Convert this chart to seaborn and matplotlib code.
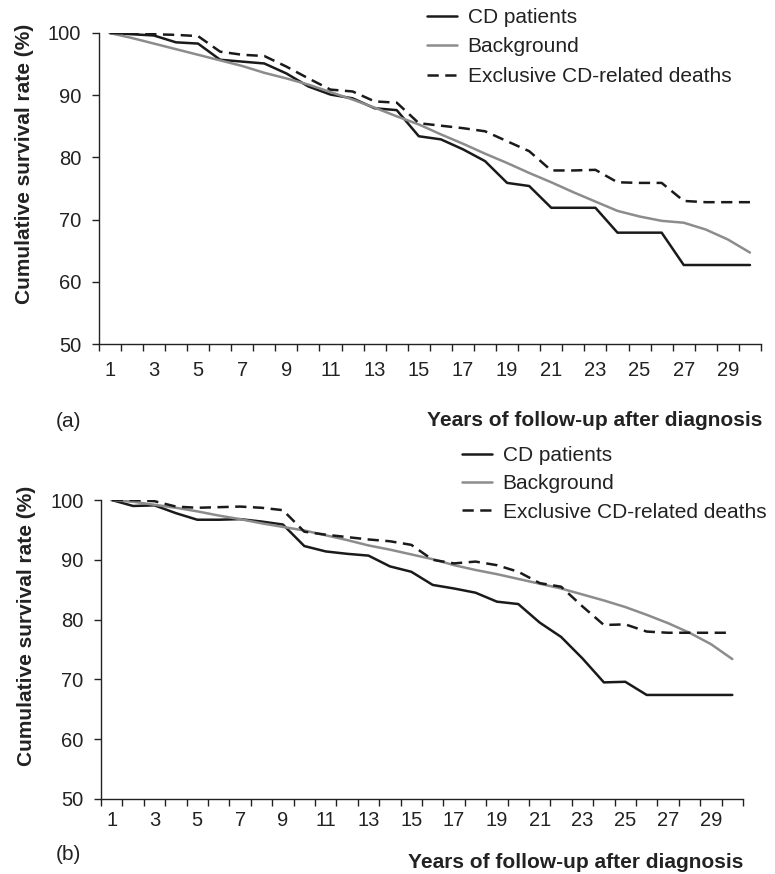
import matplotlib
matplotlib.use("Agg")
import matplotlib.pyplot as plt
import seaborn as sns
import numpy as np
import pandas as pd

years = list(range(1, 31))
xtick_labels = [str(y) for y in range(1, 30, 2)]

# Panel (a)
cd_a = [100, 99.8, 99.6, 98.5, 98.3, 95.7, 95.4, 95.1, 93.5, 91.4,
        90.1, 89.5, 87.9, 87.6, 83.4, 82.9, 81.3, 79.4, 75.9, 75.4,
        71.9, 71.9, 71.9, 67.9, 67.9, 67.9, 62.7, 62.7, 62.7, 62.7]
bg_a = [100, 99.2, 98.3, 97.4, 96.5, 95.6, 94.7, 93.6, 92.7, 91.7,
        90.5, 89.3, 88.0, 86.6, 85.3, 83.7, 82.2, 80.6, 79.1, 77.5,
        76.0, 74.4, 72.9, 71.4, 70.5, 69.8, 69.5, 68.4, 66.8, 64.7]
ex_a = [100, 99.9, 99.8, 99.7, 99.5, 97.0, 96.5, 96.3, 94.6, 92.7,
        90.9, 90.6, 89.0, 88.8, 85.5, 85.1, 84.7, 84.2, 82.6, 81.0,
        77.9, 77.9, 78.0, 76.0, 75.9, 75.9, 73.0, 72.8, 72.8, 72.8]

# Panel (b)
cd_b = [100, 99.0, 99.1, 97.8, 96.7, 96.7, 96.8, 96.4, 95.9, 92.3,
        91.4, 91.0, 90.7, 88.9, 88.0, 85.8, 85.2, 84.5, 83.0, 82.6,
        79.5, 77.1, 73.5, 69.5, 69.6, 67.4, 67.4, 67.4, 67.4, 67.4]
bg_b = [100, 99.7, 99.2, 98.7, 98.1, 97.4, 96.8, 96.1, 95.5, 94.9,
        94.1, 93.3, 92.4, 91.7, 90.9, 90.1, 89.1, 88.3, 87.6, 86.8,
        86.0, 85.2, 84.2, 83.2, 82.1, 80.8, 79.4, 77.8, 75.9, 73.4]
ex_b = [100, 100, 99.8, 98.9, 98.7, 98.8, 98.9, 98.7, 98.3, 94.7,
        94.2, 93.8, 93.4, 93.1, 92.5, 90.0, 89.4, 89.7, 89.1, 88.0,
        86.1, 85.5, 82.2, 79.1, 79.2, 78.0, 77.8, 77.8, 77.8, 77.8]

labels = ["CD patients", "Background", "Exclusive CD-related deaths"]

sns.set_theme(style="white")
plt.rcParams['font.family'] = ['Liberation Sans', 'DejaVu Sans']

W, H = 775, 874
fig = plt.figure(figsize=(W / 100, H / 100), dpi=100)
TXT = "#222222"
FS = 15


def px_axes(left, right, top, bottom):
    return fig.add_axes([left / W, 1 - bottom / H, (right - left) / W, (bottom - top) / H])


ax_a = px_axes(98.7, 761, 33, 344)
ax_b = px_axes(101, 743, 500, 799)


def draw(ax, cd, bg, ex, leg_xy, labelspacing, ylab_x, ylab_y, xpad):
    sns.lineplot(x=years, y=cd, ax=ax, color="#1a1a1a", linewidth=1.8, label=labels[0])
    sns.lineplot(x=years, y=bg, ax=ax, color="#8c8c8c", linewidth=1.8, label=labels[1])
    sns.lineplot(x=years, y=ex, ax=ax, color="#1a1a1a", linewidth=1.8, label=labels[2])
    ax.lines[-1].set_dashes((4.5, 2.6))
    for ln in ax.lines:
        ln.set_solid_joinstyle("round")
        ln.set_dash_joinstyle("round")
    ax.set_xlim(0.5, 30.5)
    ax.set_ylim(50, 100)
    ax.set_yticks([50, 60, 70, 80, 90, 100])
    ax.set_xticks(np.arange(0.5, 31, 1))
    ax.set_xticklabels([])
    ax.set_xticks(np.arange(1, 30, 2), minor=True)
    ax.set_xticklabels(xtick_labels, minor=True)
    ax.tick_params(axis="x", which="major", direction="out", length=5, width=1, color=TXT,
                   bottom=True)
    ax.tick_params(axis="x", which="minor", length=0, pad=xpad, labelsize=14.5, colors=TXT)
    ax.tick_params(axis="y", direction="out", length=5, width=1, color=TXT, left=True,
                   labelsize=14.5, labelcolor=TXT, pad=7.5)
    for s in ["top", "right"]:
        ax.spines[s].set_visible(False)
    for s in ["left", "bottom"]:
        ax.spines[s].set_color(TXT)
        ax.spines[s].set_linewidth(1)
    ax.set_xlabel("")
    ax.set_ylabel("Cumulative survival rate (%)", fontsize=FS, fontweight="bold", color=TXT)
    ax.yaxis.set_label_coords(ylab_x, ylab_y)
    leg = ax.legend(loc="upper left", bbox_to_anchor=(leg_xy[0] / W, 1 - leg_xy[1] / H),
                    bbox_transform=fig.transFigure, frameon=False, fontsize=FS,
                    handlelength=1.45, handletextpad=0.5, labelspacing=labelspacing,
                    borderpad=0, borderaxespad=0)
    for t in leg.get_texts():
        t.set_color(TXT)


draw(ax_a, cd_a, bg_a, ex_a, (427, 8), 0.5, -0.098, 0.58, 12)
draw(ax_b, cd_b, bg_b, ex_b, (462, 446), 0.45, -0.101, 0.58, 9)

fig.text(762 / W, 1 - 420 / H, "Years of follow-up after diagnosis", ha="right", va="center",
         fontsize=FS, fontweight="bold", color=TXT)
fig.text(743 / W, 1 - 862 / H, "Years of follow-up after diagnosis", ha="right", va="center",
         fontsize=FS, fontweight="bold", color=TXT)
fig.text(56 / W, 1 - 421 / H, "(a)", ha="left", va="center", fontsize=FS, color=TXT)
fig.text(56 / W, 1 - 855 / H, "(b)", ha="left", va="center", fontsize=FS, color=TXT)

fig.savefig("out.png", dpi=100)
